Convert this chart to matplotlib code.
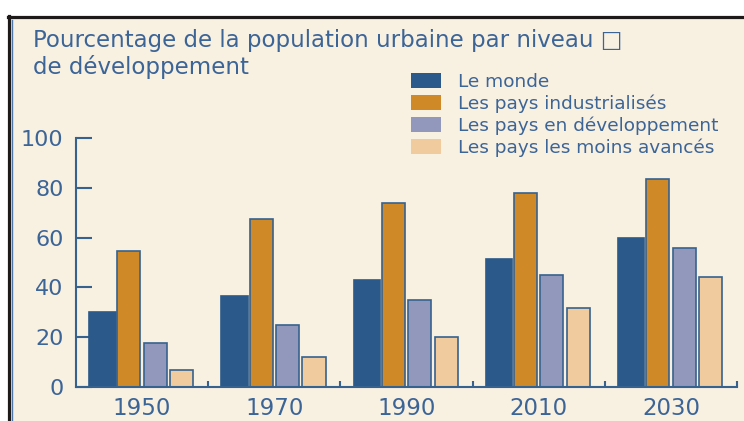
import matplotlib
matplotlib.use("Agg")
import matplotlib.pyplot as plt
from matplotlib.patches import Patch, Rectangle
from matplotlib.lines import Line2D
import numpy as np

# data (% urban population)
years = ["1950", "1970", "1990", "2010", "2030"]
series_names = ["Le monde", "Les pays industrialisés",
                "Les pays en développement", "Les pays les moins avancés"]
monde = [30, 36.5, 43, 51.3, 60]
industrialises = [54.5, 67.3, 74, 78, 83.4]
en_developpement = [17.5, 25, 35, 45, 56]
moins_avances = [7, 12.2, 20.2, 31.6, 44.3]

colors = ["#2B5A8A", "#D08927", "#9198BC", "#EFCB9D"]
edge = "#36628F"
text_col = "#3B6497"
cream = "#F8F0E1"

plt.rcParams['font.family'] = ['DejaVu Sans']

fig = plt.figure(figsize=(7.44, 4.21), dpi=100)
fig.patch.set_facecolor("white")

# cream panel with black top/left frame and thin blue inner line
fig.patches.append(Rectangle((10 / 744, 0), 1, (421 - 17) / 421,
                             transform=fig.transFigure, facecolor=cream,
                             edgecolor="none", zorder=-2))
fig.lines.append(Line2D([8 / 744, 1], [(421 - 16.5) / 421] * 2,
                        transform=fig.transFigure, color="#1E1A1A", lw=2.3,
                        zorder=-1))
fig.lines.append(Line2D([9 / 744] * 2, [0, (421 - 15.5) / 421],
                        transform=fig.transFigure, color="#1E1A1A", lw=2.3,
                        zorder=-1))
fig.lines.append(Line2D([11.5 / 744] * 2, [0, (421 - 20) / 421],
                        transform=fig.transFigure, color="#4F78A8", lw=1.0,
                        zorder=-1))

ax = fig.add_axes([76 / 744, 34 / 421, (737 - 76) / 744, (283 - 34) / 421])
ax.set_facecolor("none")

x = np.arange(len(years))
all_series = [monde, industrialises, en_developpement, moins_avances]
offsets = [-0.30, -0.10, 0.10, 0.30]
widths = [0.20, 0.175, 0.175, 0.175]
for vals, off, w, c in zip(all_series, offsets, widths, colors):
    ax.bar(x + off, vals, width=w, color=c,
           edgecolor=(c if c == colors[0] else edge), linewidth=1.2, zorder=2)

ax.set_xlim(-0.5, 4.5)
ax.set_ylim(0, 100)
for s in ["top", "right"]:
    ax.spines[s].set_visible(False)
for s in ["left", "bottom"]:
    ax.spines[s].set_color(edge)
    ax.spines[s].set_linewidth(1.5)

ax.set_yticks([0, 20, 40, 60, 80, 100])
ax.tick_params(axis="y", direction="in", length=11.5, width=1.5, color=edge,
               labelsize=16, labelcolor=text_col, pad=9)
ax.set_xticks(x)
ax.set_xticklabels(years)
ax.tick_params(axis="x", which="major", length=0, labelsize=16.5,
               labelcolor=text_col, pad=7)
ax.set_xticks(np.arange(0.5, 5, 1), minor=True)
ax.tick_params(axis="x", which="minor", direction="in", length=4, width=1.5,
               color=edge)

fig.text(33 / 744, (421 - 47) / 421,
         "Pourcentage de la population urbaine par niveau \u25a1",
         fontsize=16.5, color=text_col, va="baseline", ha="left")
fig.text(33 / 744, (421 - 74) / 421, "de développement",
         fontsize=16.5, color=text_col, va="baseline", ha="left")

handles = [Patch(facecolor=c, edgecolor="none") for c in colors]
fs = 13.3
fig.legend(handles, series_names, loc="upper left",
           bbox_to_anchor=(411 / 744, (421 - 73) / 421),
           frameon=False, fontsize=fs, labelcolor=text_col,
           handlelength=30 / (fs * 100 / 72), handleheight=15 / (fs * 100 / 72),
           handletextpad=0.9, labelspacing=0.19, borderpad=0, borderaxespad=0)

fig.savefig("out.png", dpi=100, facecolor=fig.get_facecolor())
